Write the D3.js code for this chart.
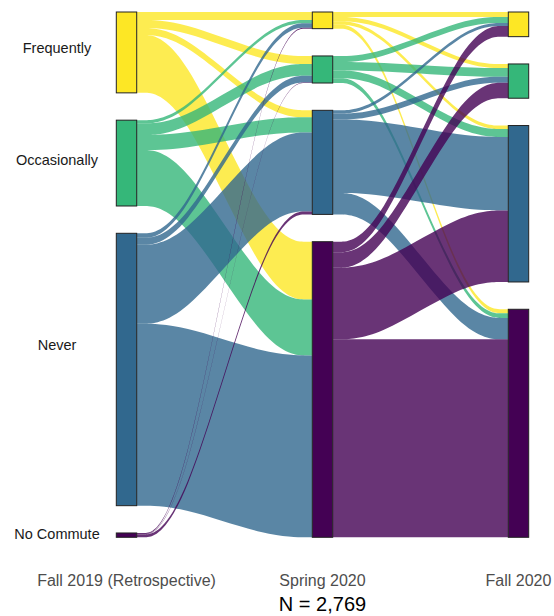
<!DOCTYPE html>
<html>
<head>
<meta charset="utf-8">
<script src="https://cdn.jsdelivr.net/npm/d3@7"></script>
<style>
  body { margin: 0; background: #fff; }
  text { font-family: "Liberation Sans", Arial, sans-serif; }
</style>
</head>
<body>
<svg id="chart" width="554" height="616"></svg>
<script>
// data
var waves = ["Fall 2019 (Retrospective)", "Spring 2020", "Fall 2020"];
var categories = ["Frequently", "Occasionally", "Never", "No Commute"];
var colors = ["#FDE725", "#35B779", "#31688E", "#440154"];
// rows = category at the earlier wave, columns = category at the next wave
var fall19ToSpring20 = [
  [50, 50, 44, 361],
  [20, 73, 94, 349],
  [28, 43, 494, 1136],
  [6, 3, 18, 0]
];
var spring20ToFall20 = [
  [31, 26, 22, 25],
  [37, 54, 49, 29],
  [20, 38, 459, 133],
  [66, 96, 447, 1237]
];
var total = 2769;
var labelNote = "N = 2,769";

// layout
var plotTop = 12, gap = 27.3, boxW = 20.4, plotH = 525.3, knot = 0.25;
var labelY = [48, 160, 345, 534];

var svg = d3.select("#chart");

var x = d3.scalePoint().domain(waves).range([126.5, 518.5]);
var h = d3.scaleLinear().domain([0, total]).range([0, plotH - 3 * gap]);

// sizes of every stratum at each wave
var rowSums = function(m) { return m.map(function(r) { return d3.sum(r); }); };
var colSums = function(m) { return m[0].map(function(_, j) { return d3.sum(m, function(r) { return r[j]; }); }); };
var strata = [rowSums(fall19ToSpring20), colSums(fall19ToSpring20), colSums(spring20ToFall20)];

// top of each stratum (pixels)
var stratTop = strata.map(function(sizes) {
  var acc = 0;
  return sizes.map(function(s, i) {
    var y = plotTop + h(acc) + i * gap;
    acc += s;
    return y;
  });
});

// flows
var segments = [fall19ToSpring20, spring20ToFall20];
var flows = [];
segments.forEach(function(m, s) {
  var outOff = [0, 0, 0, 0], inOff = [0, 0, 0, 0];
  var yOut = {}, yIn = {};
  for (var i = 0; i < 4; i++) {
    for (var j = 0; j < 4; j++) {
      yOut[i + "-" + j] = stratTop[s][i] + h(outOff[i]);
      outOff[i] += m[i][j];
    }
  }
  for (var j2 = 0; j2 < 4; j2++) {
    for (var i2 = 0; i2 < 4; i2++) {
      yIn[i2 + "-" + j2] = stratTop[s + 1][j2] + h(inOff[j2]);
      inOff[j2] += m[i2][j2];
    }
  }
  for (var a = 0; a < 4; a++) {
    for (var b = 0; b < 4; b++) {
      if (m[a][b] <= 0) continue;
      flows.push({
        seg: s, from: a, to: b, n: m[a][b],
        y0: yOut[a + "-" + b], y1: yIn[a + "-" + b]
      });
    }
  }
});

// x-spline like edge (B-spline through knots, like ggalluvial)
var edge = d3.line().curve(d3.curveBasis);

function flowPath(d) {
  var x0 = x(waves[d.seg]) + boxW / 2,
      x1 = x(waves[d.seg + 1]) - boxW / 2,
      k = (x1 - x0) * knot,
      t = h(d.n);
  var topEdge = edge([[x0, d.y0], [x0 + k, d.y0], [x1 - k, d.y1], [x1, d.y1]]);
  var botEdge = edge([[x1, d.y1 + t], [x1 - k, d.y1 + t], [x0 + k, d.y0 + t], [x0, d.y0 + t]]);
  return topEdge + "L" + botEdge.slice(1) + "Z";
}

svg.append("g").selectAll("path")
  .data(flows)
  .enter()
  .append("path")
  .attr("d", flowPath)
  .attr("fill", function(d) { return colors[d.from]; })
  .attr("fill-opacity", 0.8);

// strata boxes
var boxes = [];
strata.forEach(function(sizes, w) {
  sizes.forEach(function(s, i) {
    boxes.push({ wave: w, cat: i, n: s, y: stratTop[w][i] });
  });
});

svg.append("g").selectAll("rect")
  .data(boxes)
  .enter()
  .append("rect")
  .attr("x", function(d) { return x(waves[d.wave]) - boxW / 2; })
  .attr("y", function(d) { return d.y; })
  .attr("width", boxW)
  .attr("height", function(d) { return h(d.n); })
  .attr("fill", function(d) { return colors[d.cat]; })
  .attr("stroke", "#222")
  .attr("stroke-width", 1);

// category labels on the left
svg.append("g").selectAll("text")
  .data(categories)
  .enter()
  .append("text")
  .attr("x", 57)
  .attr("y", function(d, i) { return labelY[i] + 5; })
  .attr("text-anchor", "middle")
  .attr("font-size", 14.5)
  .attr("fill", "#1a1a1a")
  .text(function(d) { return d; });

// wave labels
svg.append("g").selectAll("text")
  .data(waves)
  .enter()
  .append("text")
  .attr("x", function(d) { return x(d); })
  .attr("y", 586)
  .attr("text-anchor", "middle")
  .attr("font-size", 16)
  .attr("fill", "#4d4d4d")
  .text(function(d) { return d; });

svg.append("text")
  .attr("x", x(waves[1]))
  .attr("y", 611)
  .attr("text-anchor", "middle")
  .attr("font-size", 20)
  .attr("fill", "#000")
  .text(labelNote);
</script>
</body>
</html>
